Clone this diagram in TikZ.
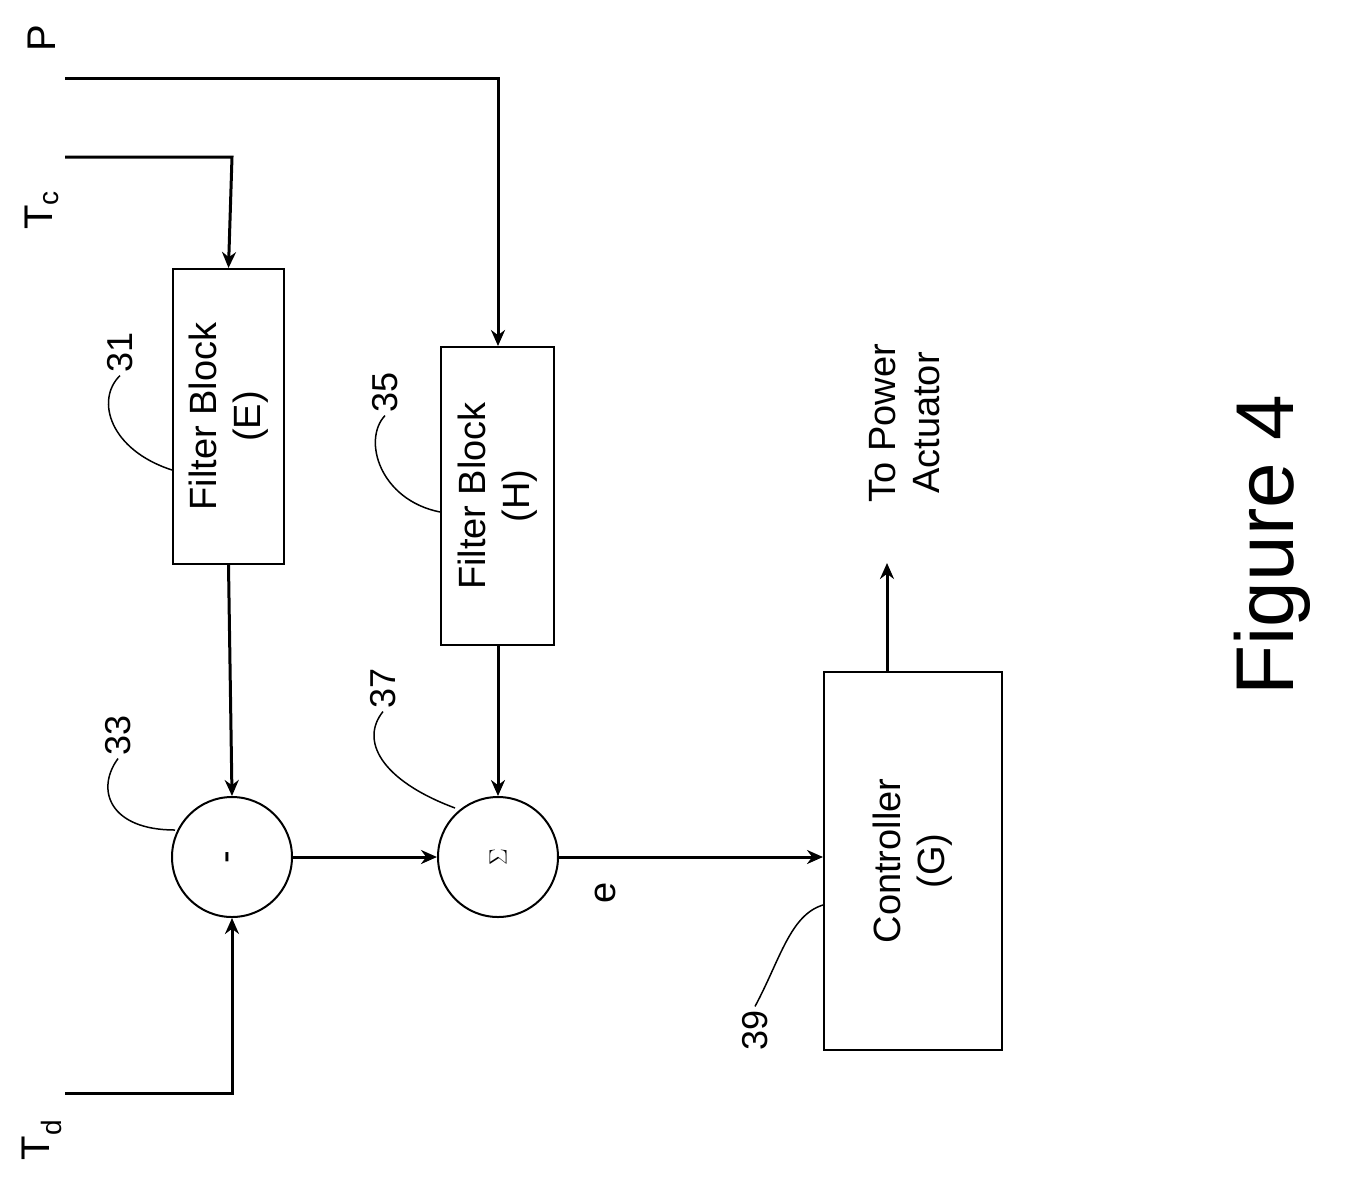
\documentclass[tikz,border=0pt]{standalone}
\usepackage{fontspec}
\setmainfont{Liberation Sans}
\usetikzlibrary{arrows.meta}
\begin{document}
\begin{tikzpicture}[x=1pt,y=-1pt,
  ln/.style={line width=3pt},
  ar/.style={line width=3pt,-{Stealth[length=16pt,width=14pt]}},
  box/.style={draw,line width=2pt,rectangle,anchor=north west,inner sep=0pt},
  circ/.style={draw,line width=2pt,circle,minimum size=120pt,inner sep=0pt},
  txt/.style={rotate=90,font=\fontsize{38}{44}\selectfont,align=center},
  num/.style={rotate=90,font=\fontsize{36}{40}\selectfont},
  lead/.style={line width=1.5pt}]
\useasboundingbox (0,0) rectangle (1347,1192);
\node[box,minimum width=111pt,minimum height=295pt] (E) at (172,268) {};
\node[txt] at (E.center) {Filter Block\\(E)};
\node[box,minimum width=113pt,minimum height=298pt] (H) at (440,346) {};
\node[txt] at (H.center) {Filter Block\\(H)};
\node[box,minimum width=178pt,minimum height=378pt] (G) at (823,671) {};
\node[txt] at (G.center) {Controller\\(G)};
\node[circ] (S1) at (232,857) {};
\node[txt] at (S1.center) {-};
\node[circ] (S2) at (498,857) {};
\node[txt] at (S2.center) {$\Sigma$};
\coordinate (Tc0) at (65,157); \coordinate (Tc1) at (232,157);
\coordinate (P0) at (65,78); \coordinate (P1) at (498,78);
\coordinate (Td0) at (65,1093); \coordinate (Td1) at (232,1093);
\coordinate (out) at (887,563);
\draw[ar] (Tc0) -- (Tc1) -- (E.north);
\draw[ar] (P0) -- (P1) -- (H.north -| P1);
\draw[ar] (E.south) -- (S1.north);
\draw[ar] (Td0) -- (Td1) -- (S1.south);
\draw[ar] (S1.east) -- (S2.west);
\draw[ar] (H.south -| S2) -- (S2.north);
\draw[ar] (S2.east) -- (G.west |- S2);
\draw[ar] (G.north -| out) -- (out);
\node[rotate=90,font=\fontsize{40}{44}\selectfont] (lP) at (42,38) {P};
\node[rotate=90,font=\fontsize{40}{44}\selectfont] (lTc) at (42,210) {T\textsubscript{c}};
\node[rotate=90,font=\fontsize{40}{44}\selectfont] (lTd) at (42,1140) {T\textsubscript{d}};
\node[txt] (le) at (605,893) {e};
\node[txt] (lact) at (905,423) {To Power\\Actuator};
\node[rotate=90,font=\fontsize{82}{90}\selectfont] (fig) at (1272,545) {Figure 4};
\node[num] (n31) at (120,352) {31};
\node[num] (n33) at (118,735) {33};
\node[num] (n35) at (385,392) {35};
\node[num] (n37) at (383,688) {37};
\node[num] (n39) at (755,1030) {39};
\draw[lead] (n31.west) .. controls (95,400) and (110,450) .. (172,470);
\draw[lead] (n33.west) .. controls (95,790) and (110,830) .. (175,830);
\draw[lead] (n35.west) .. controls (362,440) and (380,500) .. (440,512);
\draw[lead] (n37.west) .. controls (360,740) and (380,780) .. (455,808);
\draw[lead] (n39.east) .. controls (780,960) and (790,915) .. (823,905);
\end{tikzpicture}
\end{document}
